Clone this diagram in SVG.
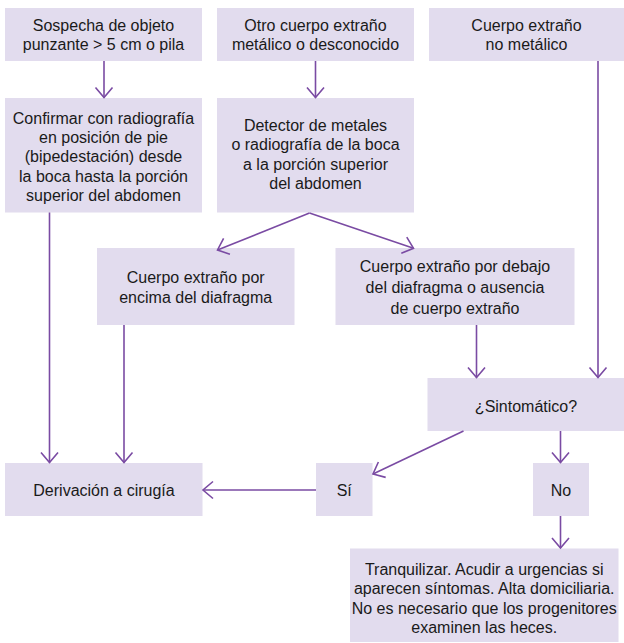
<svg xmlns="http://www.w3.org/2000/svg" width="624" height="643" viewBox="0 0 624 643">
<style>
.box{fill:#e2dcee;stroke:none}
.t{font-family:"Liberation Sans",Arial,sans-serif;font-size:16px;fill:#1a1a1a;text-anchor:middle}
.c{fill:none;stroke:#7a4ba3;stroke-width:1.6}
</style>
<defs>
<marker id="ah" markerUnits="userSpaceOnUse" viewBox="-12 -10 14 20" refX="0" refY="0" markerWidth="14" markerHeight="20" orient="auto">
<path d="M-10,-8.5 L0,0 L-10,8.5" fill="none" stroke="#7a4ba3" stroke-width="1.6"/>
</marker>
</defs>
<rect width="624" height="643" fill="#ffffff"/>
<g id="n1"><rect class="box" x="5" y="8" width="197" height="53"/><text class="t" x="103.5" y="31">Sospecha de objeto</text><text class="t" x="103.5" y="50">punzante &gt; 5 cm o pila</text></g>
<g id="n2"><rect class="box" x="217" y="8" width="197" height="53"/><text class="t" x="315.5" y="31">Otro cuerpo extraño</text><text class="t" x="315.5" y="50">metálico o desconocido</text></g>
<g id="n3"><rect class="box" x="429" y="8" width="195" height="53"/><text class="t" x="526.5" y="31">Cuerpo extraño</text><text class="t" x="526.5" y="50">no metálico</text></g>
<g id="n4"><rect class="box" x="5" y="98" width="197" height="114.5"/><text class="t" x="103.5" y="124">Confirmar con radiografía</text><text class="t" x="103.5" y="143.2">en posición de pie</text><text class="t" x="103.5" y="162.4">(bipedestación) desde</text><text class="t" x="103.5" y="181.6">la boca hasta la porción</text><text class="t" x="103.5" y="200.8">superior del abdomen</text></g>
<g id="n5"><rect class="box" x="217" y="98" width="197" height="114.5"/><text class="t" x="315.5" y="131">Detector de metales</text><text class="t" x="315.5" y="150.3">o radiografía de la boca</text><text class="t" x="315.5" y="169.6">a la porción superior</text><text class="t" x="315.5" y="189">del abdomen</text></g>
<g id="n6"><rect class="box" x="97" y="248" width="197.5" height="77"/><text class="t" x="195.7" y="283.3">Cuerpo extraño por</text><text class="t" x="195.7" y="303.3">encima del diafragma</text></g>
<g id="n7"><rect class="box" x="335.5" y="248" width="239" height="77"/><text class="t" x="455" y="272.3">Cuerpo extraño por debajo</text><text class="t" x="455" y="293.2">del diafragma o ausencia</text><text class="t" x="455" y="314">de cuerpo extraño</text></g>
<g id="n8"><rect class="box" x="427.5" y="378" width="196.5" height="53"/><text class="t" x="526" y="411.5">¿Sintomático?</text></g>
<g id="n9"><rect class="box" x="5" y="463" width="197.5" height="53"/><text class="t" x="104" y="496">Derivación a cirugía</text></g>
<g id="n10"><rect class="box" x="316" y="463" width="56.5" height="53"/><text class="t" x="344.2" y="496">Sí</text></g>
<g id="n11"><rect class="box" x="533" y="463" width="56" height="53"/><text class="t" x="561" y="496">No</text></g>
<g id="n12"><rect class="box" x="350" y="548.5" width="268.5" height="93.5"/><text class="t" x="484.2" y="575">Tranquilizar. Acudir a urgencias si</text><text class="t" x="484.2" y="594.3">aparecen síntomas. Alta domiciliaria.</text><text class="t" x="484.2" y="613.6">No es necesario que los progenitores</text><text class="t" x="484.2" y="633">examinen las heces.</text></g>
<g id="connectors">
<line class="c" x1="104" y1="61" x2="104" y2="97.5" marker-end="url(#ah)"/>
<line class="c" x1="315.5" y1="61" x2="315.5" y2="97.5" marker-end="url(#ah)"/>
<line class="c" x1="598" y1="61" x2="598" y2="377.5" marker-end="url(#ah)"/>
<line class="c" x1="309.5" y1="213" x2="217.5" y2="250" marker-end="url(#ah)"/>
<line class="c" x1="309.5" y1="213" x2="413.5" y2="248.3" marker-end="url(#ah)"/>
<line class="c" x1="49.5" y1="212.5" x2="49.5" y2="462.5" marker-end="url(#ah)"/>
<line class="c" x1="124" y1="325" x2="124" y2="462.5" marker-end="url(#ah)"/>
<line class="c" x1="476.5" y1="325" x2="476.5" y2="377.5" marker-end="url(#ah)"/>
<line class="c" x1="463.5" y1="431" x2="373" y2="474" marker-end="url(#ah)"/>
<line class="c" x1="560.5" y1="431" x2="560.5" y2="462.5" marker-end="url(#ah)"/>
<line class="c" x1="316" y1="490" x2="203" y2="490" marker-end="url(#ah)"/>
<line class="c" x1="560.5" y1="516" x2="560.5" y2="548" marker-end="url(#ah)"/>
</g>
</svg>
